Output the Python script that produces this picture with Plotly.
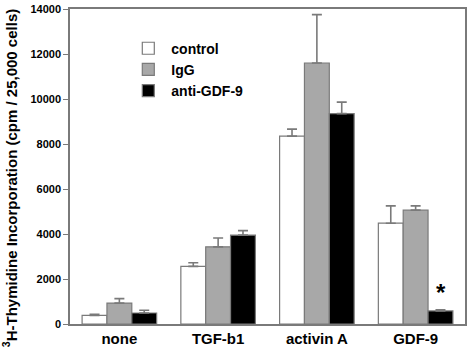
import plotly.graph_objects as go

categories = ["none", "TGF-b1", "activin A", "GDF-9"]
series_names = ["control", "IgG", "anti-GDF-9"]
control_vals = [380, 2560, 8350, 4480]
control_err = [55, 160, 310, 770]
igg_vals = [930, 3430, 11600, 5060]
igg_err = [200, 390, 2150, 190]
anti_vals = [490, 3950, 9350, 580]
anti_err = [120, 200, 510, 50]
y_ticks = [0, 2000, 4000, 6000, 8000, 10000, 12000, 14000]
y_tick_labels = [str(v) for v in y_ticks]

fills = ["#ffffff", "#a8a8a8", "#000000"]
edge = "#7a7a7a"
font_family = "Liberation Sans, Arial, sans-serif"

fig = go.Figure()
for name, vals, errs, col in zip(series_names,
                                  [control_vals, igg_vals, anti_vals],
                                  [control_err, igg_err, anti_err], fills):
    fig.add_trace(go.Bar(
        name=name, x=categories, y=vals,
        marker=dict(color=col, line=dict(color=edge, width=1.2)),
        error_y=dict(type="data", array=errs, symmetric=False, arrayminus=[0]*len(errs),
                     color=edge, thickness=1.6, width=5),
    ))

fig.update_layout(
    width=470, height=350,
    margin=dict(l=70, r=3, t=5, b=24),
    paper_bgcolor="white", plot_bgcolor="white",
    barmode="group", bargap=0.245, bargroupgap=0,
    font=dict(family=font_family, color="black"),
    showlegend=True,
    legend=dict(x=0.14, y=0.925, xanchor="left", yanchor="top",
                font=dict(size=14, family=font_family, weight="bold"),
                tracegroupgap=0, itemwidth=36,
                bgcolor="rgba(0,0,0,0)", traceorder="normal"),
    xaxis=dict(showline=True, linecolor=edge, linewidth=1.5, mirror=True,
               ticks="", tickfont=dict(size=15, family=font_family, weight="bold"),
               showgrid=False),
    yaxis=dict(range=[0, 14000], tickmode="array", tickvals=y_ticks, ticktext=y_tick_labels,
               ticklabeloverflow="allow",
               showline=True, linecolor=edge,
               linewidth=1.5, mirror=True, ticks="outside", ticklen=5, tickcolor=edge,
               tickwidth=1.2,
               tickfont=dict(size=11, family=font_family, weight="bold"),
               showgrid=False, zeroline=False),
)

fig.add_annotation(text="<sup>3</sup>H-Thymidine Incorporation (cpm / 25,000 cells)",
                   xref="paper", yref="paper", x=-0.151, y=0.464, textangle=-90,
                   showarrow=False, xanchor="center", yanchor="middle",
                   font=dict(size=15, family=font_family, weight="bold"))

fig.add_annotation(text="*", x=categories[3], y=anti_vals[3] + anti_err[3], yanchor="bottom",
                   xshift=25, yshift=2, showarrow=False,
                   font=dict(size=24, family=font_family, weight="bold"))

fig.write_html("out.html")
